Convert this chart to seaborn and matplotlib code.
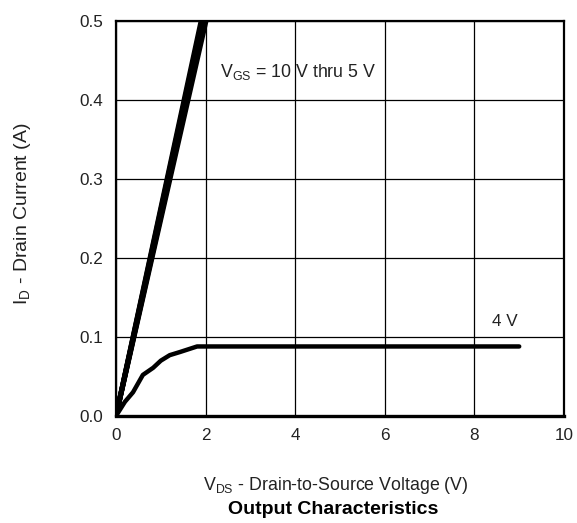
import numpy as np
import pandas as pd
import matplotlib
matplotlib.use("Agg")
import matplotlib.pyplot as plt
import seaborn as sns

# Linear-region curves, V_GS = 10 V down to 5 V: drain voltage reached at I_D = 0.5 A
vgs_high = ["10 V", "9 V", "8 V", "7 V", "6 V", "5 V"]
vds_at_half_amp = [1.90, 1.92, 1.94, 1.96, 1.98, 2.01]

# V_GS = 4 V curve (saturates near 0.088 A)
vds_4v = [0.0, 0.2, 0.38, 0.6, 0.83, 1.0, 1.2, 1.43, 1.81, 9.0]
id_4v = [0.0, 0.018, 0.030, 0.052, 0.061, 0.070, 0.077, 0.081, 0.088, 0.088]

x_ticks = [0, 2, 4, 6, 8, 10]
y_ticks = [0.0, 0.1, 0.2, 0.3, 0.4, 0.5]

rows = []
for name, v in zip(vgs_high, vds_at_half_amp):
    rows.append({"vgs": name, "vds": 0.0, "id": 0.0})
    rows.append({"vgs": name, "vds": v, "id": 0.5})
df_high = pd.DataFrame(rows)
df_4v = pd.DataFrame({"vds": vds_4v, "id": id_4v})

sns.set_theme(style="white")
plt.rcParams["font.family"] = ["Liberation Sans", "DejaVu Sans"]
plt.rcParams["mathtext.default"] = "regular"

fig = plt.figure(figsize=(5.77, 5.23), dpi=100)
ax = fig.add_axes([0.201, 0.2046, 0.7765, 0.7554])

sns.lineplot(data=df_high, x="vds", y="id", units="vgs", estimator=None,
             color="black", linewidth=3.6, ax=ax, legend=False,
             solid_capstyle="butt")
sns.lineplot(data=df_4v, x="vds", y="id", color="black", linewidth=3.2,
             ax=ax, legend=False, sort=False, solid_capstyle="round")

ax.set_xlim(0, 10)
ax.set_ylim(0, 0.5)
ax.set_xticks(x_ticks)
ax.set_yticks(y_ticks)
ax.set_xticklabels([str(t) for t in x_ticks])
ax.set_yticklabels([f"{t:.1f}" for t in y_ticks])
ax.grid(True, color="black", linewidth=0.9)
ax.tick_params(axis="both", length=0, labelsize=12.3, colors="#222222", pad=9)

for side in ["left", "top", "right"]:
    ax.spines[side].set_color("black")
    ax.spines[side].set_linewidth(1.6)
ax.spines["bottom"].set_color("black")
ax.spines["bottom"].set_linewidth(2.4)

ax.set_xlabel("")
ax.set_ylabel("")

ax.text(2.32, 0.435, "$V_{GS}$ = 10 V thru 5 V", fontsize=12.8,
        color="#222222", va="center", ha="left")
ax.text(8.4, 0.12, "4 V", fontsize=12.3, color="#222222",
        va="center", ha="left")

fig.text(23 / 577, 1 - 214 / 523, "$I_D$ - Drain Current (A)",
         rotation=90, fontsize=14, color="#222222", va="center", ha="center")
fig.text(336 / 577, 1 - 486 / 523,
         "$V_{DS}$ - Drain-to-Source Voltage (V)", fontsize=12.8,
         color="#222222", va="center", ha="center")
fig.text(333 / 577, 1 - 509 / 523, "Output Characteristics",
         fontsize=14, fontweight="bold", color="black", va="center", ha="center")

fig.savefig("out.png", dpi=100, facecolor="white")
